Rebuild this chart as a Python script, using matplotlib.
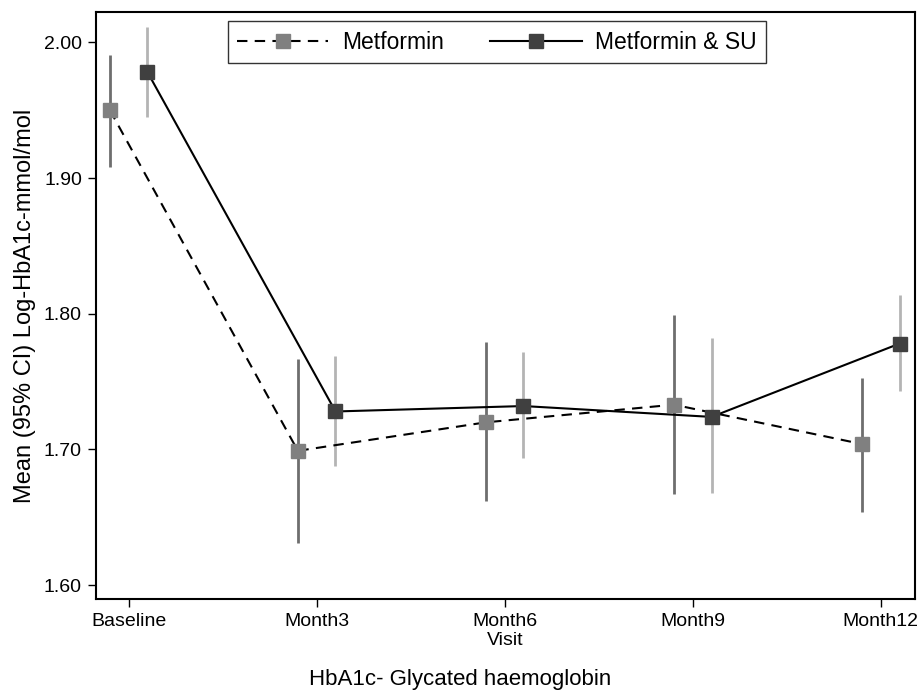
import matplotlib
matplotlib.use("Agg")
import matplotlib.pyplot as plt
import numpy as np

visits = ["Baseline", "Month3", "Month6", "Month9", "Month12"]

met_mean = [1.950, 1.699, 1.720, 1.733, 1.704]
met_lo = [1.908, 1.631, 1.662, 1.667, 1.654]
met_hi = [1.991, 1.767, 1.779, 1.799, 1.753]

su_mean = [1.978, 1.728, 1.732, 1.724, 1.778]
su_lo = [1.945, 1.688, 1.694, 1.668, 1.743]
su_hi = [2.011, 1.769, 1.772, 1.782, 1.814]

plt.rcParams["font.family"] = ["Liberation Sans", "DejaVu Sans"]

fig = plt.figure(figsize=(9.21, 6.93), dpi=100)
ax = fig.add_axes([0.104, 0.135, 0.889, 0.848])

x = np.arange(len(visits))
off = 0.1

# CI bars
ax.vlines(x - off, met_lo, met_hi, color="#6e6e6e", lw=2, zorder=2)
ax.vlines(x + off, su_lo, su_hi, color="#b4b4b4", lw=2, zorder=2)

ax.plot(x - off, met_mean, ls=(0, (5, 3.5)), color="black", lw=1.5,
        marker="s", ms=10, mfc="#808080", mec="#808080", label="Metformin", zorder=3)
ax.plot(x + off, su_mean, ls="-", color="black", lw=1.5,
        marker="s", ms=10, mfc="#404040", mec="#404040", label="Metformin & SU", zorder=3)

ax.set_xlim(-0.175, 4.18)
ax.set_ylim(1.5895, 2.0225)
ax.set_yticks([1.6, 1.7, 1.8, 1.9, 2.0])
ax.set_yticklabels(["%.2f" % v for v in [1.6, 1.7, 1.8, 1.9, 2.0]], fontsize=14)
ax.set_xticks(x)
ax.set_xticklabels(visits, fontsize=14)
ax.tick_params(direction="out", length=6, width=1, pad=4)
for s in ax.spines.values():
    s.set_linewidth(1.5)

ax.set_xlabel("Visit", fontsize=14, labelpad=1)
ax.set_ylabel("Mean (95% CI) Log-HbA1c-mmol/mol", fontsize=17, labelpad=6)

leg = ax.legend(loc="upper left", bbox_to_anchor=(0.147, 1.003), ncol=2, fontsize=16.5,
                frameon=True, fancybox=False, edgecolor="black", handlelength=4.0,
                columnspacing=2.0, borderpad=0.4, handletextpad=0.6)
leg.get_frame().set_linewidth(1)

fig.text(0.5, 0.012, "HbA1c- Glycated haemoglobin", ha="center", fontsize=16)

fig.savefig("out.png", dpi=100)
